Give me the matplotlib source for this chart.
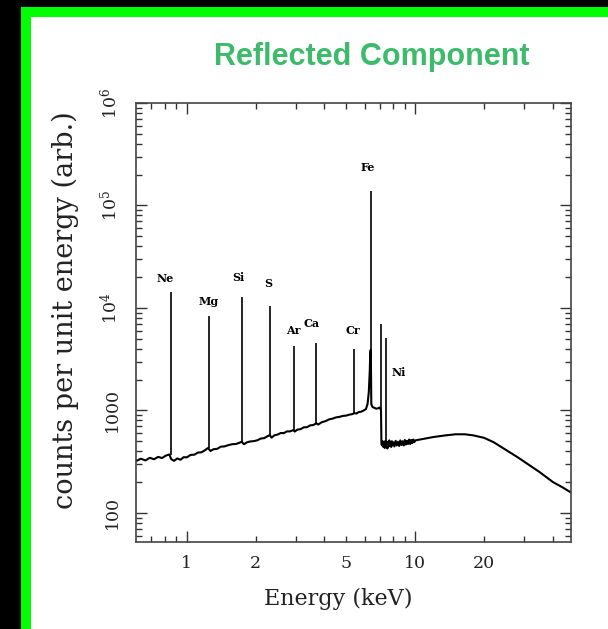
import matplotlib
matplotlib.use("Agg")
import matplotlib.pyplot as plt
from matplotlib.patches import Rectangle

# continuum of the reflected spectrum (keV, counts)
energy = [0.60, 0.63, 0.66, 0.69, 0.72, 0.75, 0.78, 0.81, 0.84, 0.855,
          0.88, 0.91, 0.94, 0.97, 1.00, 1.04, 1.08, 1.12, 1.16, 1.20,
          1.24, 1.27, 1.31, 1.36, 1.41, 1.46, 1.52, 1.58, 1.64, 1.70,
          1.74, 1.78, 1.84, 1.90, 1.97, 2.04, 2.11, 2.18, 2.25, 2.31,
          2.35, 2.42, 2.50, 2.58, 2.66, 2.74, 2.83, 2.92, 2.97, 3.05,
          3.15, 3.25, 3.36, 3.47, 3.58, 3.69, 3.76, 3.90, 4.05, 4.20,
          4.35, 4.50, 4.66, 4.82, 4.98, 5.15, 5.30, 5.41, 5.52, 5.65,
          5.80, 5.95, 6.08, 6.18, 6.26, 6.32, 6.36, 6.39, 6.42, 6.50,
          6.62, 6.75, 6.88, 7.00, 7.08, 7.11,
          7.15, 7.20, 7.25, 7.30, 7.35, 7.40, 7.45, 7.50, 7.55, 7.60,
          7.65, 7.70, 7.75, 7.80, 7.85, 7.90, 7.95, 8.00, 8.10, 8.20,
          8.30, 8.40, 8.50, 8.60, 8.70, 8.80, 8.90, 9.00, 9.10, 9.20,
          9.30, 9.40, 9.50, 9.60, 9.70, 9.80, 9.90, 10.0,
          11.0, 12.0, 13.5, 15.0, 16.5, 18.0, 20.0, 22.0, 25.0, 28.0,
          31.0, 35.0, 40.0, 44.0, 48.0]
counts = [320, 338, 325, 345, 334, 352, 343, 362, 372, 335,
          322, 340, 330, 350, 348, 368, 370, 388, 390, 408,
          430, 402, 418, 422, 443, 445, 458, 468, 470, 483,
          495, 468, 490, 498, 502, 512, 532, 536, 558, 575,
          542, 572, 582, 602, 600, 624, 624, 642, 622, 650,
          656, 684, 686, 715, 720, 750, 728, 768, 786, 818,
          832, 855, 865, 884, 890, 910, 920, 940, 932, 962,
          972, 1000, 1030, 1150, 1500, 2400, 3800, 3900, 1150, 1080,
          1060, 1040, 1050, 1070, 1000, 470,
          455, 500, 440, 490, 430, 505, 450, 480, 425, 495,
          445, 510, 455, 485, 440, 500, 460, 490, 445, 505,
          455, 495, 450, 510, 460, 500, 455, 515, 465, 505,
          470, 520, 470, 515, 480, 520, 490, 510,
          530, 550, 570, 585, 585, 570, 540, 490, 410, 350,
          300, 250, 200, 178, 158]

# fluorescence lines
line_names = ["Ne", "Mg", "Si", "S", "Ar", "Ca", "Cr", "Fe", "", "Ni"]
line_energy = [0.85, 1.25, 1.74, 2.31, 2.96, 3.69, 5.41, 6.40, 7.06, 7.47]
line_peak = [14300, 8400, 12800, 10400, 4300, 4600, 4000, 137000, 7000, 5100]
line_base = [370, 430, 495, 575, 635, 750, 940, 3900, 1000, 460]

# label offsets from the top of each line, in pixels (right, down)
label_off = [(-5, -14), (0, -14), (-3, -19), (-2, -23), (-1, -15),
             (-5, -19), (-1, -18), (-3, -24), (0, 0), (12, 35)]

fig = plt.figure(figsize=(6.08, 6.29), dpi=100, facecolor="white")

# black/green frame of the slide
W, H = 608.0, 629.0
fig.add_artist(Rectangle((0, 0), 21 / W, 1, transform=fig.transFigure,
                         facecolor="black", edgecolor="none", zorder=-5))
fig.add_artist(Rectangle((0, 1 - 7 / H), 1, 7 / H, transform=fig.transFigure,
                         facecolor="black", edgecolor="none", zorder=-5))
fig.add_artist(Rectangle((21 / W, 0), 10 / W, 1 - 7 / H, transform=fig.transFigure,
                         facecolor="#00ff00", edgecolor="none", zorder=-4))
fig.add_artist(Rectangle((21 / W, 1 - 17 / H), 1, 10 / H, transform=fig.transFigure,
                         facecolor="#00ff00", edgecolor="none", zorder=-4))

fig.text(372 / W, 1 - 57 / H, "Reflected Component", color="#3dbb6b",
         fontsize=22, fontweight="bold", family="Liberation Sans",
         ha="center", va="center")

plt.rcParams["mathtext.fontset"] = "dejavuserif"
serif = "DejaVu Serif"

ax = fig.add_axes([136 / W, 1 - 542 / H, 435 / W, 439 / H])
ax.plot(energy, counts, color="black", lw=1.5)
ax.vlines(line_energy, line_base, line_peak, color="black", lw=1.2)

for name, e, p, (dx, dy) in zip(line_names, line_energy, line_peak, label_off):
    if name:
        ax.annotate(name, (e, p), xytext=(dx * 0.72, -dy * 0.72),
                    textcoords="offset points", ha="center", va="center",
                    fontsize=8, fontweight="bold", family=serif)

ax.set_xscale("log")
ax.set_yscale("log")
ax.set_xlim(0.6, 48)
ax.set_ylim(52, 1e6)

ax.set_xticks([1, 10], labels=["1", "10"])
minor_x = [0.7, 0.8, 0.9, 2, 3, 4, 5, 6, 7, 8, 9, 20, 30, 40]
ax.set_xticks(minor_x, minor=True,
              labels=["2" if v == 2 else "5" if v == 5 else "20" if v == 20 else ""
                      for v in minor_x])
ax.set_yticks([1e2, 1e3, 1e4, 1e5, 1e6],
              labels=["100", "1000", r"$10^4$", r"$10^5$", r"$10^6$"])
for lab in ax.get_yticklabels():
    lab.set_rotation(90)
    lab.set_va("center")

ax.tick_params(which="both", direction="in", top=True, right=True,
               colors="#333333", labelcolor="#222222", width=1.0,
               labelsize=12.5, labelfontfamily=serif)
ax.tick_params(which="major", length=8)
ax.tick_params(which="minor", length=4.5)
ax.tick_params(axis="x", which="both", pad=9)
ax.tick_params(axis="y", which="both", pad=11)
for s in ax.spines.values():
    s.set_linewidth(1.2)
    s.set_color("#444444")

ax.set_xlabel("Energy (keV)", fontsize=16, family=serif, color="#222222")
ax.set_ylabel("counts per unit energy (arb.)", fontsize=19.5, family=serif,
              color="#222222")
ax.xaxis.set_label_coords(0.465, -0.105)
ax.yaxis.set_label_coords(-0.13, 0.528)

fig.savefig("out.png", dpi=100, facecolor="white")
